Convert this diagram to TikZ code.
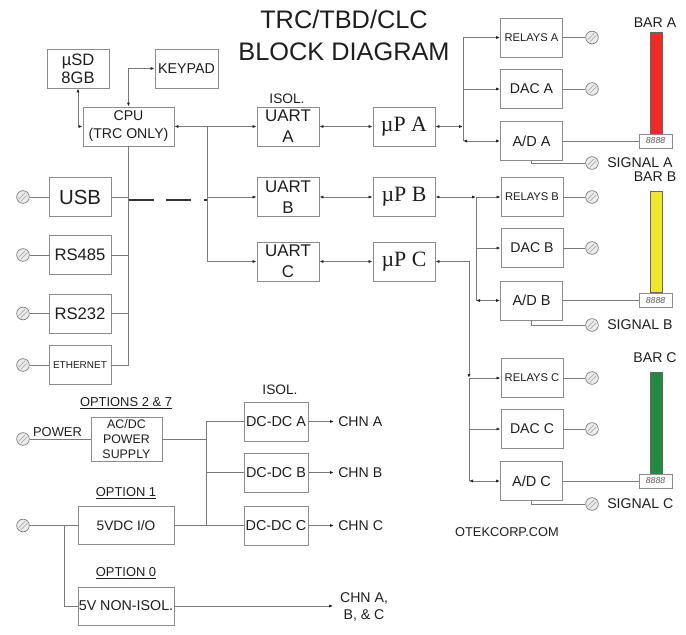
\documentclass[tikz,border=0pt]{standalone}
\usepackage{fontspec}
\setmainfont{Liberation Sans}
\newfontfamily\tnr{Liberation Serif}
\usetikzlibrary{arrows.meta}
\definecolor{ln}{HTML}{7A7A7A}
\definecolor{bx}{HTML}{8C8C8C}
\definecolor{tx}{HTML}{1E1E1E}
\definecolor{barred}{HTML}{EE2A24}
\definecolor{baryel}{HTML}{F0E62A}
\definecolor{bargrn}{HTML}{1F8A40}
\tikzset{
 >={Latex[length=3pt,width=2.4pt,color=black!85]},
 box/.style={draw=bx, line width=0.7pt, fill=white, inner sep=0pt, align=center, text=tx,
   font=\fontsize{10.6}{12}\selectfont, minimum width=46.5pt, minimum height=29.25pt},
 wire/.style={draw=ln, line width=0.6pt},
 dashline/.style={draw=black!80, line width=1.1pt, dash pattern=on 18.75pt off 9.5pt},
 term/.style={circle, draw=ln, fill=gray!15, line width=0.5pt, minimum size=9.5pt, inner sep=0pt,
   path picture={
    \draw[gray!65, line width=0.5pt] ([shift={(-3.2pt,-1.6pt)}]path picture bounding box.center) -- ([shift={(1.6pt,3.2pt)}]path picture bounding box.center);
    \draw[gray!65, line width=0.5pt] ([shift={(-1.6pt,-3.2pt)}]path picture bounding box.center) -- ([shift={(3.2pt,1.6pt)}]path picture bounding box.center);
   }},
 lbl/.style={text=tx, inner sep=0pt, align=center, font=\fontsize{10.6}{12.75}\selectfont},
 ul/.style={text=tx, inner sep=0pt, font=\fontsize{9.7}{11}\selectfont},
 ttlst/.style={text=tx, inner sep=0pt, align=center, font=\fontsize{19}{24}\selectfont},
 up/.style={box, font=\tnr\fontsize{16.4}{18}\selectfont},
 uart/.style={box, font=\fontsize{12.7}{16}\selectfont},
 rel/.style={box, font=\fontsize{8.4}{10}\selectfont},
 disp/.style={draw=bx, fill=white, line width=0.6pt, minimum width=24.75pt, minimum height=10.5pt,
   inner sep=0pt, font=\fontsize{6.5}{7}\selectfont\itshape, text=gray!70!black},
 barst/.style={draw=black!60, line width=0.6pt, minimum width=9pt, minimum height=75.75pt, inner sep=0pt, anchor=south},
}
\begin{document}
\begin{tikzpicture}[x=0.75pt,y=-0.75pt]
\useasboundingbox (0,0) rectangle (686,635);

% title
\node[ttlst] (ttl) at (344,35) {TRC/TBD/CLC\\BLOCK DIAGRAM};

% CPU area
\node[box, font=\fontsize{12.4}{13.5}\selectfont] (usd) at (78,68.5) {µSD\\8GB};
\node[box, minimum width=47.25pt, font=\fontsize{10.7}{12}\selectfont] (keypad) at (186.5,68.5) {KEYPAD};
\node[box, minimum width=68.25pt, font=\fontsize{10.6}{13.5}\selectfont] (cpu) at (128.5,126.5) {CPU\\(TRC ONLY)};

\node[box, font=\fontsize{15.3}{16}\selectfont] (usb) at (80,197) {USB};
\node[box, font=\fontsize{12.5}{14}\selectfont] (rs485) at (80,255) {RS485};
\node[box, font=\fontsize{12.5}{14}\selectfont] (rs232) at (80,313.5) {RS232};
\node[box, font=\fontsize{7.5}{9}\selectfont] (eth) at (80,365) {ETHERNET};

\node[term] (tusb) at (23,197) {};
\node[term] (t485) at (23,255) {};
\node[term] (t232) at (23,313.5) {};
\node[term] (teth) at (23,365) {};

\draw[wire] (tusb) -- (usb);
\draw[wire] (t485) -- (rs485);
\draw[wire] (t232) -- (rs232);
\draw[wire] (teth) -- (eth);

\coordinate (busb) at (128.5,365);
\draw[wire] (cpu.south) -- (busb);
\draw[wire] (usb.east) -- (usb.east -| busb);
\draw[wire] (rs485.east) -- (rs485.east -| busb);
\draw[wire] (rs232.east) -- (rs232.east -| busb);
\draw[wire] (eth.east) -- (busb);

\draw[wire,<->] (usd.south) |- (cpu.west);
\draw[wire,<->] (cpu.north) |- (keypad.west);

% UARTs and uPs
\node[lbl, font=\fontsize{10.3}{12}\selectfont] (isola) at (287,99) {ISOL.};
\node[uart] (uarta) at (288,126.5) {UART\\A};
\node[uart] (uartb) at (288,197) {UART\\B};
\node[uart] (uartc) at (288,261.5) {UART\\C};
\node[up] (upa) at (404,126.5) {µP A};
\node[up] (upb) at (404,197) {µP B};
\node[up] (upc) at (404,261.5) {µP C};

\draw[wire,<->] (cpu.east) -- (uarta.west);
\coordinate (j1) at (207,126.5);
\draw[wire,->] (j1) |- (uartc.west);
\draw[wire,->] (j1 |- uartb.west) -- (uartb.west);
\coordinate (d1) at (128.5,200);
\coordinate (d2) at (207,200);
\draw[dashline] (d1) -- (d2);

\draw[wire,<->] (uarta) -- (upa);
\draw[wire,<->] (uartb) -- (upb);
\draw[wire,<->] (uartc) -- (upc);

% channel A
\node[rel] (relaysa) at (531.5,37.5) {RELAYS A};
\node[box] (daca) at (531.5,89) {DAC A};
\node[box, font=\fontsize{10.9}{12}\selectfont] (ada) at (531.5,141) {A/D A};
\coordinate (ba) at (463,126.5);
\draw[wire,<->] (upa.east) -- (ba);
\draw[wire] (ba |- relaysa.west) -- (ba |- ada.west);
\draw[wire,->] (ba |- relaysa.west) -- (relaysa.west);
\draw[wire,->] (ba |- daca.west) -- (daca.west);
\draw[wire,<->] (ba |- ada.west) -- (ada.west);

% channel B
\node[rel] (relaysb) at (532,197) {RELAYS B};
\node[box] (dacb) at (532,248) {DAC B};
\node[box, font=\fontsize{10.9}{12}\selectfont] (adb) at (531.5,300.5) {A/D B};
\coordinate (bb) at (476,197);
\draw[wire,<->] (upb.east) -- (bb);
\draw[wire,->] (bb) -- (relaysb.west);
\draw[wire] (bb) -- (bb |- adb.west);
\draw[wire,->] (bb |- dacb.west) -- (dacb.west);
\draw[wire,<->] (bb |- adb.west) -- (adb.west);

% channel C
\node[rel] (relaysc) at (532,378) {RELAYS C};
\node[box] (dacc) at (532,429) {DAC C};
\node[box, font=\fontsize{10.9}{12}\selectfont] (adc) at (531.5,481) {A/D C};
\coordinate (bc) at (469,378);
\draw[wire,<->] (upc.east) -| (bc);
\draw[wire,->] (bc) -- (relaysc.west);
\draw[wire] (bc) -- (bc |- adc.west);
\draw[wire,->] (bc |- dacc.west) -- (dacc.west);
\draw[wire,<->] (bc |- adc.west) -- (adc.west);

% right terminals
\node[term] (trla) at (592,37.5) {};
\node[term] (tdaa) at (592,89) {};
\node[term] (tsiga) at (592,163) {};
\node[term] (trlb) at (592,197) {};
\node[term] (tdab) at (592,248) {};
\node[term] (tsigb) at (592,325) {};
\node[term] (trlc) at (592,378) {};
\node[term] (tdac) at (592,429) {};
\node[term] (tsigc) at (592,504) {};
\draw[wire] (relaysa) -- (trla);
\draw[wire] (daca) -- (tdaa);
\draw[wire] (ada.south) |- (tsiga);
\draw[wire] (relaysb) -- (trlb);
\draw[wire] (dacb) -- (tdab);
\draw[wire] (adb.south) |- (tsigb);
\draw[wire] (relaysc) -- (trlc);
\draw[wire] (dacc) -- (tdac);
\draw[wire] (adc.south) |- (tsigc);
\node[lbl, anchor=west] (lsiga) at (607,163) {SIGNAL A};
\node[lbl, anchor=west] (lsigb) at (607,325) {SIGNAL B};
\node[lbl, anchor=west] (lsigc) at (607,504) {SIGNAL C};

% bars
\node[disp] (dispa) at (655.5,141) {8888};
\node[disp] (dispb) at (655.5,300.5) {8888};
\node[disp] (dispc) at (655.5,481) {8888};
\draw[wire] (ada.east) -- (dispa.west);
\draw[wire] (adb.east) -- (dispb.west);
\draw[wire] (adc.east) -- (dispc.west);
\node[barst, fill=barred] (bara) at ([xshift=0.4pt]dispa.north) {};
\node[barst, fill=baryel] (barb) at ([xshift=0.4pt]dispb.north) {};
\node[barst, fill=bargrn] (barc) at ([xshift=0.4pt]dispc.north) {};
\node[lbl] (lbara) at (655,23) {BAR A};
\node[lbl] (lbarb) at (655,177) {BAR B};
\node[lbl] (lbarc) at (655,358) {BAR C};

% power
\node[ul] (lopt27) at (126,403) {\underline{OPTIONS 2 \& 7}};
\node[box, minimum width=53.25pt, minimum height=33pt, font=\fontsize{9.3}{11.25}\selectfont] (acdc) at (126.5,439) {AC/DC\\POWER\\SUPPLY};
\node[term] (tpow) at (23,439) {};
\node[lbl, font=\fontsize{9.7}{11}\selectfont] (lpow) at (57.5,432) {POWER};
\draw[wire] (tpow) -- (acdc.west);

\node[ul] (lopt1) at (126,493) {\underline{OPTION 1}};
\node[box, minimum width=72pt, minimum height=28.5pt, font=\fontsize{10.3}{12}\selectfont] (v5) at (126,525.5) {5VDC I/O};
\node[term] (tv5) at (23,525.5) {};
\draw[wire] (tv5) -- (v5.west);

\node[ul] (lopt0) at (126,573) {\underline{OPTION 0}};
\node[box, minimum width=72pt, minimum height=28.5pt, font=\fontsize{10.7}{12}\selectfont] (noniso) at (126,606) {5V NON-ISOL.};
\coordinate (jv) at (64,525.5);
\draw[wire] (jv) |- (noniso.west);

\node[lbl, font=\fontsize{10.3}{12}\selectfont] (isold) at (280,390) {ISOL.};
\node[box, minimum width=48pt, font=\fontsize{10.8}{12}\selectfont] (dcdca) at (276,421.5) {DC-DC A};
\node[box, minimum width=48pt, font=\fontsize{10.8}{12}\selectfont] (dcdcb) at (276,472.5) {DC-DC B};
\node[box, minimum width=48pt, font=\fontsize{10.8}{12}\selectfont] (dcdcc) at (276,525.5) {DC-DC C};

\coordinate (pb) at (206,421.5);
\draw[wire] (acdc.east) -- (acdc.east -| pb);
\draw[wire] (pb) -- (pb |- dcdcc.west);
\draw[wire] (pb) -- (dcdca.west);
\draw[wire] (pb |- dcdcb.west) -- (dcdcb.west);
\draw[wire] (v5.east) -- (dcdcc.west);

\node[lbl, anchor=west] (lchna) at (338,421.5) {CHN A};
\node[lbl, anchor=west] (lchnb) at (338,472.5) {CHN B};
\node[lbl, anchor=west] (lchnc) at (338,525.5) {CHN C};
\draw[wire,->,shorten >=3pt] (dcdca.east) -- (lchna.west);
\draw[wire,->,shorten >=3pt] (dcdcb.east) -- (lchnb.west);
\draw[wire,->,shorten >=3pt] (dcdcc.east) -- (lchnc.west);

\node[lbl] (lchnall) at (364,606.5) {CHN A,\\B, \& C};
\draw[wire,->,shorten >=5pt] (noniso.east) -- (noniso.east -| lchnall.west);

\node[lbl, font=\fontsize{9.6}{11}\selectfont] (web) at (507,532) {OTEKCORP.COM};
\end{tikzpicture}
\end{document}
